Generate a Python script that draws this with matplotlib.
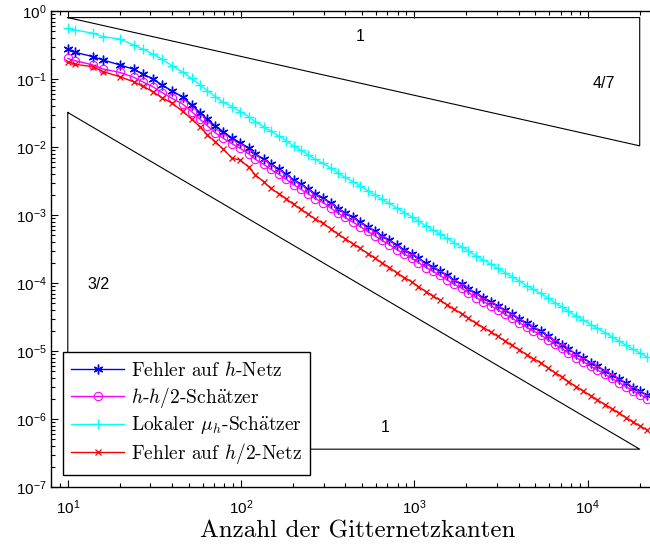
import matplotlib
matplotlib.use("Agg")
import matplotlib.pyplot as plt
from matplotlib.font_manager import FontProperties
from matplotlib.ticker import LogLocator, NullFormatter, FixedLocator

plt.rcParams['mathtext.fontset'] = 'custom'
plt.rcParams['mathtext.rm'] = 'Liberation Sans'
plt.rcParams['mathtext.it'] = 'Liberation Sans:italic'
plt.rcParams['mathtext.bf'] = 'Liberation Sans:bold'
plt.rcParams['font.family'] = ['Liberation Sans', 'DejaVu Sans']

# ---------------- data ----------------
edges = [10, 11, 14, 16, 20, 24, 27, 31, 35, 40, 46, 52, 58, 64, 71, 79, 89, 99, 111, 121,
         135, 148, 165, 182, 201, 222, 245, 268, 299, 330, 365, 399, 443, 487, 540, 595,
         650, 719, 794, 875, 969, 1057, 1172, 1280, 1410, 1542, 1698, 1882, 2053, 2275,
         2506, 2766, 3034, 3343, 3656, 4045, 4460, 4868, 5370, 5890, 6495, 7100, 7745,
         8590, 9460, 10430, 11390, 12620, 13790, 15250, 16670, 18370, 20090, 22130]

err_h = [0.273, 0.247, 0.213, 0.19, 0.161, 0.139, 0.119, 0.1, 0.0816, 0.0667, 0.0545,
         0.0415, 0.032, 0.0255, 0.0204, 0.0168, 0.0134, 0.0116, 0.00955, 0.00789, 0.00659,
         0.00562, 0.00472, 0.00398, 0.0033, 0.00281, 0.00239, 0.00205, 0.00177, 0.00149,
         0.00124, 0.00108, 0.000919, 0.000789, 0.000668, 0.000574, 0.000493, 0.000428,
         0.000358, 0.000309, 0.000269, 0.000231, 0.000195, 0.000171, 0.000149, 0.000129,
         0.00011, 9.64e-5, 8.30e-5, 7.01e-5, 6.12e-5, 5.32e-5, 4.60e-5, 3.95e-5, 3.45e-5,
         2.98e-5, 2.54e-5, 2.24e-5, 1.95e-5, 1.67e-5, 1.42e-5, 1.24e-5, 1.07e-5, 9.0e-6,
         7.87e-6, 6.73e-6, 5.92e-6, 5.10e-6, 4.45e-6, 3.84e-6, 3.35e-6, 2.90e-6, 2.55e-6,
         2.23e-6]

est_hh2 = [0.201, 0.186, 0.161, 0.14, 0.125, 0.106, 0.091, 0.077, 0.063, 0.052, 0.0428,
           0.033, 0.0255, 0.0204, 0.0162, 0.0134, 0.0111, 0.00955, 0.00789, 0.00659,
           0.00556, 0.0047, 0.00398, 0.00336, 0.00279, 0.00238, 0.00203, 0.00174, 0.00151,
           0.00126, 0.00106, 0.000919, 0.000783, 0.000675, 0.000572, 0.000491, 0.000423,
           0.000367, 0.000308, 0.000266, 0.000232, 0.000199, 0.000169, 0.000148, 0.000129,
           0.000111, 9.57e-5, 8.36e-5, 7.23e-5, 6.10e-5, 5.32e-5, 4.65e-5, 4.02e-5, 3.45e-5,
           3.03e-5, 2.61e-5, 2.22e-5, 1.97e-5, 1.72e-5, 1.47e-5, 1.25e-5, 1.09e-5, 9.42e-6,
           7.96e-6, 6.97e-6, 5.96e-6, 5.26e-6, 4.53e-6, 3.95e-6, 3.42e-6, 2.99e-6, 2.58e-6,
           2.29e-6, 2.00e-6]

est_local = [0.557, 0.526, 0.47, 0.42, 0.387, 0.316, 0.276, 0.233, 0.195, 0.157, 0.126,
             0.102, 0.0816, 0.0673, 0.055, 0.0454, 0.0392, 0.033, 0.0279, 0.0236, 0.0199,
             0.0172, 0.01452, 0.01239, 0.01034, 0.00889, 0.00762, 0.00659, 0.00575, 0.00486,
             0.0041, 0.00358, 0.00309, 0.00267, 0.00228, 0.00197, 0.0017, 0.00149, 0.00126,
             0.00108, 0.000944, 0.000811, 0.000689, 0.000601, 0.000526, 0.000454, 0.000392,
             0.000342, 0.000296, 0.000249, 0.000218, 0.00019, 0.000164, 0.000142, 0.000124,
             0.000107, 9.12e-5, 8.07e-5, 7.06e-5, 6.05e-5, 5.13e-5, 4.48e-5, 3.87e-5,
             3.27e-5, 2.86e-5, 2.45e-5, 2.16e-5, 1.86e-5, 1.62e-5, 1.40e-5, 1.22e-5,
             1.06e-5, 9.35e-6, 8.16e-6]

err_h2 = [0.18, 0.164, 0.152, 0.128, 0.108, 0.091, 0.079, 0.065, 0.053, 0.044, 0.0335,
          0.0255, 0.0199, 0.015, 0.012, 0.00925, 0.00681, 0.00644, 0.00502, 0.00387,
          0.00309, 0.00247, 0.00207, 0.00174, 0.00143, 0.00121, 0.00102, 0.000873,
          0.00075, 0.000625, 0.000519, 0.000447, 0.000378, 0.000323, 0.000271, 0.000231,
          0.000197, 0.000169, 0.000141, 0.00012, 0.000104, 8.83e-5, 7.45e-5, 6.44e-5,
          5.58e-5, 4.80e-5, 4.09e-5, 3.55e-5, 3.03e-5, 2.55e-5, 2.21e-5, 1.91e-5, 1.64e-5,
          1.40e-5, 1.21e-5, 1.04e-5, 8.79e-6, 7.73e-6, 6.68e-6, 5.70e-6, 4.80e-6, 4.15e-6,
          3.56e-6, 2.98e-6, 2.58e-6, 2.19e-6, 1.91e-6, 1.63e-6, 1.42e-6, 1.21e-6, 1.05e-6,
          9.0e-7, 7.89e-7, 6.82e-7]

labels = ["Fehler auf $h$-Netz",
          r"$h$-$h/2$-Sch$\ddot{\mathrm{a}}$tzer",
          r"Lokaler $\mu_h$-Sch$\ddot{\mathrm{a}}$tzer",
          "Fehler auf $h/2$-Netz"]

x_ticks = [10, 100, 1000, 10000]
y_ticks = [1e-7, 1e-6, 1e-5, 1e-4, 1e-3, 1e-2, 1e-1, 1]

# slope triangles
tri1_x = [10, 2e4, 2e4, 10]
tri1_y = [0.8, 0.8, 0.0104, 0.8]
tri2_x = [10, 10, 2e4, 10]
tri2_y = [0.0322, 3.6e-7, 3.6e-7, 0.0322]
tri_labels = ["1", "4/7", "3/2", "1"]
tri_label_x = [488, 12450, 15, 679]
tri_label_y = [0.415, 0.0873, 9.66e-5, 7.4e-7]

# ---------------- figure ----------------
fig = plt.figure(figsize=(6.5, 5.44), dpi=100)
ax = fig.add_axes([51/650, 57/544, 605.5/650, 476/544])

ax.plot(tri1_x, tri1_y, color='black', lw=0.8)
ax.plot(tri2_x, tri2_y, color='black', lw=0.8)
for t, tx, ty in zip(tri_labels, tri_label_x, tri_label_y):
    ax.text(tx, ty, t, ha='center', va='center', fontsize=11.5, family='Liberation Sans')

ax.plot(edges, err_h, color='#0000ff', lw=1, marker=(6, 2, 0), ms=7, mew=1.0, label=labels[0])
ax.plot(edges, est_hh2, color='#ff00ff', lw=1, marker='o', ms=6, mfc='none', mew=0.8, label=labels[1])
ax.plot(edges, est_local, color='#00ffff', lw=1, marker='+', ms=7, mew=1, label=labels[2])
ax.plot(edges, err_h2, color='#ff0000', lw=1, marker='x', ms=4.5, mew=0.9, label=labels[3])

ax.set_xscale('log')
ax.set_yscale('log')
ax.set_xlim(8, 2.5e4)
ax.set_ylim(1e-7, 1)

ax.xaxis.set_major_locator(FixedLocator(x_ticks))
ax.yaxis.set_major_locator(FixedLocator(y_ticks))
ax.xaxis.set_minor_locator(LogLocator(base=10, subs=range(2, 10), numticks=100))
ax.yaxis.set_minor_locator(LogLocator(base=10, subs=range(2, 10), numticks=100))
ax.xaxis.set_minor_formatter(NullFormatter())
ax.yaxis.set_minor_formatter(NullFormatter())
ax.tick_params(which='both', direction='in', top=True, right=True, width=0.8, colors='black')
ax.tick_params(which='major', length=5, labelsize=11)
ax.tick_params(which='minor', length=3)
ax.tick_params(axis='x', pad=8.5)
ax.tick_params(axis='y', pad=3)
for s in ax.spines.values():
    s.set_linewidth(1.0)
    s.set_color('black')

ax.set_xlabel("Anzahl der Gitternetzkanten", family=['cmr10', 'DejaVu Serif'],
              fontsize=18)
ax.xaxis.set_label_coords((358 - 51) / 605.5, (487 - 520) / 476)

prop = FontProperties(family=['cmr10', 'DejaVu Serif'], size=14, math_fontfamily='cm')
leg = ax.legend(loc='lower left', bbox_to_anchor=(0.0193, 0.0252), borderaxespad=0,
                prop=prop, fancybox=False, framealpha=1, edgecolor='black',
                handlelength=2.7, labelspacing=0.25, borderpad=0.45, handletextpad=0.35)
leg.get_frame().set_linewidth(1.0)
for t in leg.get_texts():
    t.set_math_fontfamily('cm')

fig.savefig("out.png", dpi=100)
